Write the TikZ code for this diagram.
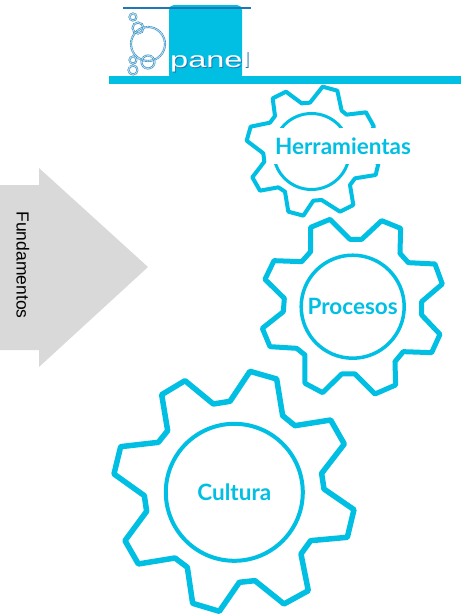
\documentclass[tikz,border=0pt]{standalone}
\usepackage{fontspec}
\setmainfont{Liberation Sans}
\newfontfamily\latofont{Lato}
\definecolor{gearcyan}{HTML}{00BFE3}
\definecolor{logoblue}{HTML}{1F78B4}
\definecolor{arrowgray}{HTML}{D9D9D9}
\tikzset{
  gearline/.style={draw=gearcyan,line join=round},
  gearhub/.style={circle,draw=gearcyan,text=gearcyan,inner sep=0pt,font=\latofont\bfseries\fontsize{22.5}{22.5}\selectfont},
  bubble/.style={draw=logoblue!85,double=gearcyan!25,double distance=0.7pt,line width=0.7pt,dash pattern=on 2pt off 0.5pt},
  paneltext/.style={font=\fontsize{22}{22}\selectfont,xscale=1.48,inner sep=0pt},
}
\begin{document}
\begin{tikzpicture}[x=1pt,y=-1pt]
\useasboundingbox (0,0) rectangle (461,614);
% logo
\fill[gearcyan,rounded corners=5pt] (169,5) rectangle (242,80);
\fill[gearcyan] (109,76) rectangle (461,83.5);
\draw[logoblue,line width=1.3pt] (123,8) -- (251,8);
\draw[bubble] (148,44) circle (17);
\draw[bubble] (138,28) circle (5.5);
\draw[bubble] (133,17) circle (3.5);
\draw[bubble] (148,62) circle (6.5);
\draw[bubble] (133,60) circle (3.5);
\draw[bubble] (133,70) circle (4.5);
\node[logoblue,paneltext] (panelback) at (211,62.5) {panel};
\node[white,paneltext] (panel) at (210,61.5) {panel};
% arrow
\fill[arrowgray] (0,185) -- (39,185) -- (39,168) -- (148,267) -- (39,367) -- (39,350) -- (0,350) -- cycle;
\node[rotate=-90,font=\fontsize{17.5}{17.5}\selectfont,inner sep=0pt] (fundamentos) at (23,265) {Fundamentos};
% gears
\begin{scope}[shift={(230,80)},scale=0.3333]
\draw[gearline,line width=4pt] (278,20) -- (322,32) -- (335,92) -- (350,104) -- (408,97) -- (432,140) -- (397,190) -- (400,215) -- (445,252) -- (437,285) -- (375,295) -- (360,315) -- (370,375) -- (330,395) -- (275,360) -- (250,362) -- (220,407) -- (175,395) -- (165,335) -- (145,322) -- (90,332) -- (67,292) -- (103,245) -- (100,220) -- (50,182) -- (62,140) -- (120,128) -- (135,108) -- (128,55) -- (168,35) -- (215,70) -- (240,68) -- cycle;
\end{scope}
\node[circle,draw=gearcyan,line width=3pt,minimum size=76pt,inner sep=0pt] (herrahub) at (311.5,151.5) {};
\node[fill=white,text=gearcyan,font=\latofont\bfseries\fontsize{22.5}{22.5}\selectfont,minimum height=36pt,minimum width=144pt,inner sep=0pt] (herramientas) at (343,146) {Herramientas};
\begin{scope}[shift={(250,210)},scale=0.3333]
\draw[gearline,line width=5pt] (240,28) -- (300,88) -- (335,88) -- (395,32) -- (452,55) -- (450,130) -- (475,158) -- (555,162) -- (577,222) -- (515,275) -- (515,315) -- (570,373) -- (545,428) -- (460,425) -- (435,455) -- (437,525) -- (375,552) -- (315,492) -- (275,492) -- (218,548) -- (165,520) -- (165,435) -- (140,415) -- (60,410) -- (37,355) -- (100,305) -- (103,265) -- (45,208) -- (72,152) -- (155,155) -- (182,125) -- (182,52) -- cycle;
\end{scope}
\node[gearhub,line width=3.5pt,minimum size=103pt] (procesos) at (352.7,306.7) {Procesos};
\begin{scope}[shift={(100,364)},scale=0.3333]
\draw[gearline,line width=5.5pt] (450,22) -- (530,45) -- (548,155) -- (585,185) -- (692,168) -- (733,240) -- (665,328) -- (672,375) -- (762,437) -- (742,520) -- (632,530) -- (603,570) -- (625,680) -- (552,720) -- (465,650) -- (418,655) -- (358,742) -- (278,718) -- (262,610) -- (225,582) -- (115,600) -- (75,530) -- (140,442) -- (133,395) -- (42,330) -- (62,248) -- (175,235) -- (203,200) -- (185,92) -- (255,50) -- (340,120) -- (390,112) -- cycle;
\end{scope}
\node[gearhub,line width=4pt,minimum size=137pt] (cultura) at (234.3,492.3) {Cultura};
\end{tikzpicture}
\end{document}
